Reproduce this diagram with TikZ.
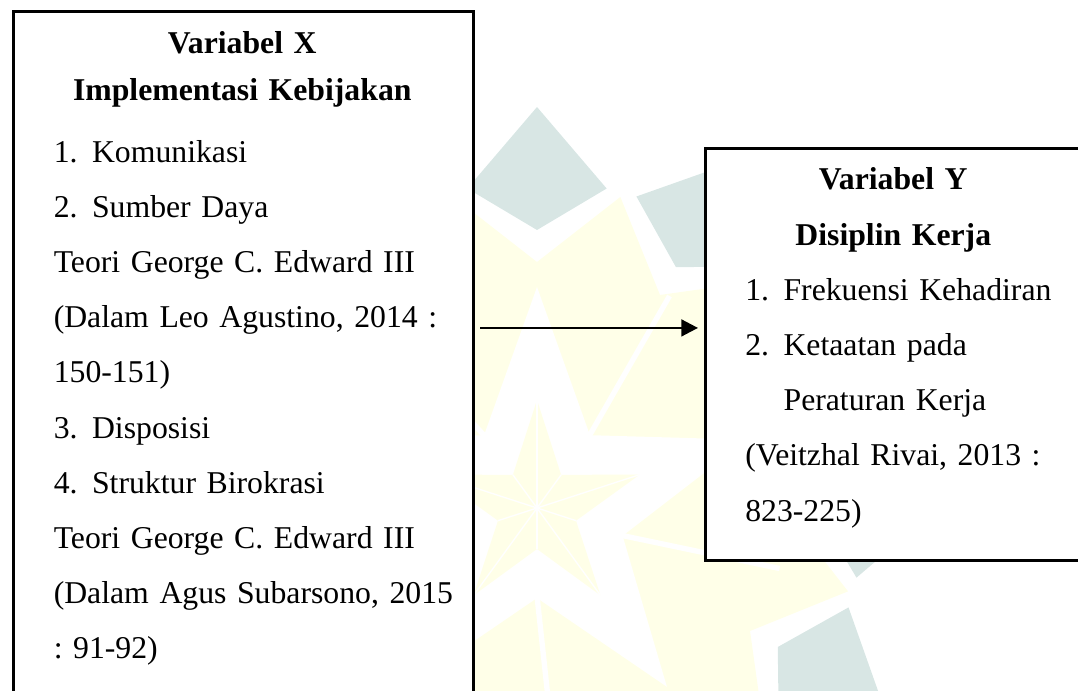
\documentclass[tikz,border=0pt]{standalone}
\usepackage{fontspec}
\setmainfont{Liberation Serif}[WordSpace=0.8]
\usetikzlibrary{calc, arrows.meta}
\frenchspacing

\definecolor{wmkuning}{RGB}{255,255,232}
\definecolor{wmhijau}{RGB}{216,230,228}

\tikzset{
    varbox/.style={draw, line width=2.25pt, fill=white, outer sep=0pt, inner sep=0pt, anchor=north west},
    vartext/.style={inner sep=0pt, anchor=base west, align=left, font=\fontsize{23.8}{41.4}\selectfont},
    link/.style={-{Triangle[length=12.5pt, width=12.5pt]}, line width=2pt}
}
\newcommand{\judul}[2]{\makebox[#1]{\textbf{#2}}}
\newcommand{\butir}[2]{\makebox[28.75pt][l]{#1}#2}
\newcommand{\rata}[2]{\makebox[#1][s]{#2}}

\begin{document}
\begin{tikzpicture}[x=0.75pt, y=-0.75pt]
    \useasboundingbox (0,0) rectangle (1078,691);
    \clip (0,0) rectangle (1078,691);

    % watermark
    \begin{scope}[shift={(537,508)}]
        \fill[wmkuning] (-90:246) \foreach \k in {0,...,11}{ -- ({-75+30*\k}:322) -- ({-60+30*\k}:246)} -- cycle;
        \foreach \k in {0,...,11}
            \fill[wmhijau] ({-90+30*\k}:278) -- ({-102.3+30*\k}:327) -- ({-90+30*\k}:401) -- ({-77.7+30*\k}:327) -- cycle;
        \fill[white] (-90:221) \foreach \k in {0,...,4}{ -- ({-54+72*\k}:90) -- ({-18+72*\k}:221)} -- cycle;
        \foreach \k in {0,...,4}
            \draw[white, line width=4pt] ({-54+72*\k}:88) -- ({-58+72*\k}:250);
        \fill[wmkuning] (-90:108) \foreach \k in {0,...,4}{ -- ({-54+72*\k}:41) -- ({-18+72*\k}:108)} -- cycle;
        \foreach \k in {0,...,4}{
            \draw[white, line width=1pt] (0,0) -- ({-90+72*\k}:108);
            \draw[white, line width=1pt] (0,0) -- ({-54+72*\k}:41);
        }
    \end{scope}

    \node[varbox, minimum width=344.8pt, minimum height=540pt] (varx) at (13.3,11.7) {};
    \node[varbox, minimum width=290pt, minimum height=309.5pt] (vary) at (705,148.3) {};

    \node[vartext, text width=300pt] (isix) at ($(varx.north west)+(40.2,41.6)$) {%
        \judul{282.75pt}{Variabel X}\\[-6.25pt]
        \judul{282.75pt}{Implementasi Kebijakan}\\[5pt]
        \butir{1.}{Komunikasi}\\
        \butir{2.}{Sumber Daya}\\
        Teori George C. Edward III\\
        \rata{297.4pt}{(Dalam Leo Agustino, 2014 :}\\
        150-151)\\
        \butir{3.}{Disposisi}\\
        \butir{4.}{Struktur Birokrasi}\\
        Teori George C. Edward III\\
        \rata{297.4pt}{(Dalam Agus Subarsono, 2015}\\
        : 91-92)};

    \node[vartext, text width=240pt] (isiy) at ($(vary.north west)+(40,41.7)$) {%
        \judul{222pt}{Variabel Y}\\
        \judul{222pt}{Disiplin Kerja}\\
        \butir{1.}{Frekuensi Kehadiran}\\
        \butir{2.}{Ketaatan pada}\\
        \hspace*{28.75pt}Peraturan Kerja\\
        \rata{236.25pt}{(Veitzhal Rivai, 2013 :}\\
        823-225)};

    \draw[link] ($(varx.east |- vary.west)+(7,-26.7)$) -- ($(vary.west)+(-7,-26.7)$); % X ke Y
\end{tikzpicture}
\end{document}
